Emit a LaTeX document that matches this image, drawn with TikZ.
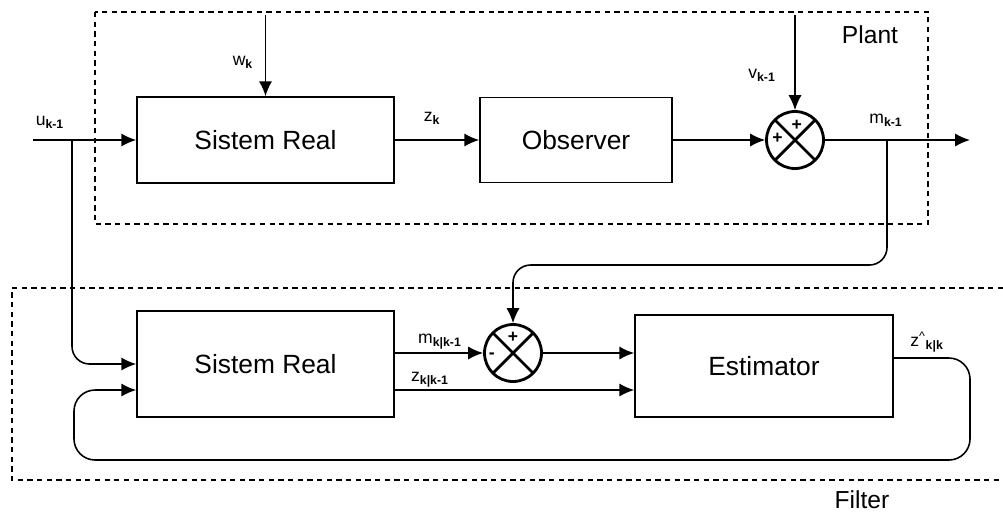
\documentclass[tikz,border=0pt]{standalone}
\usepackage{fontspec}
\setmainfont{Liberation Sans}
\usetikzlibrary{arrows.meta,positioning,calc}
\tikzset{>={Latex[length=8.5pt,width=7.5pt]}}
\newcommand{\sig}[2]{#1\textsubscript{\bfseries #2}}

\begin{document}
\begin{tikzpicture}[x=0.02cm, y=-0.02cm, line width=0.9pt,
  block/.style = {draw, line width=0.9pt, font=\fontsize{15}{18}\selectfont},
  summer/.style = {draw, circle, line width=1.6pt, minimum size=1.14cm, inner sep=0pt,
    path picture={\draw[line width=1.6pt] (path picture bounding box.north west) -- (path picture bounding box.south east)
      (path picture bounding box.north east) -- (path picture bounding box.south west);}},
  sign/.style = {font=\fontsize{10}{12}\selectfont\bfseries, inner sep=0pt},
  frame/.style = {dash pattern=on 3pt off 2.5pt, line width=0.8pt},
  title/.style = {font=\fontsize{14}{16}\selectfont, inner sep=0pt},
  lbl/.style = {font=\fontsize{10}{12}\selectfont, inner sep=0pt}]
\useasboundingbox (0,0) rectangle (1003,515);

% plant
\node[block, minimum width=5.14cm, minimum height=1.72cm] (sys) at (265.5,140) {Sistem Real};
\node[block, minimum width=3.84cm, minimum height=1.7cm] (obs) at (576,140) {Observer};
\node[summer] (sumv) at (795,140) {};
\node[sign, yshift=8.5pt, xshift=1pt] at (sumv) {+};
\node[sign, xshift=-10pt, yshift=1pt] at (sumv) {+};

% filter
\node[block, minimum width=5.14cm, minimum height=2.12cm] (model) at (265.5,364) {Sistem Real};
\node[block, minimum width=5.16cm, minimum height=2.04cm] (est) at (764,366) {Estimator};
\node[summer] (summ) at (513,353) {};
\node[sign, yshift=9pt] at (summ) {+};
\node[sign, xshift=-12pt, yshift=-1.5pt] at (summ) {-};

\coordinate (uin) at (33,140);
\coordinate (usplit) at (72,140);
\coordinate (win) at (265.5,15);
\coordinate (vin) at (795,15);
\coordinate (mout) at (970,140);
\coordinate (msplit) at (887,140);
\coordinate (mturn) at (887,265);
\coordinate (zrow) at (0,390);
\coordinate (fbr) at (970,460);
\coordinate (fbl) at (74,460);

\draw[->] (uin) -- (sys.west);
\draw[->] (win) -- (sys.north);
\draw[->] (sys.east) -- (obs.west);
\draw[->] (obs.east) -- (sumv.west);
\draw[->] (vin) -- (sumv.north);
\draw[->] (sumv.east) -- (mout);
\draw[->, rounded corners=10pt] (usplit) |- (model.west);
\draw[->, rounded corners=10pt] (msplit) -- (mturn) -| (summ.north);
\draw[->] (model.east |- summ.west) -- (summ.west);
\draw[->] (summ.east) -- (est.west |- summ.east);
\draw[->] (model.east |- zrow) -- (est.west |- zrow);
\draw[->, rounded corners=12pt] ([yshift=0.16cm]est.east) -| (fbr) -- (fbl) |- (model.west |- zrow);

% labels
\node[lbl] (ulab) at (50,122) {\sig{u}{k-1}};
\node[lbl] (wlab) at (243,62) {\sig{w}{k}};
\node[lbl] (zlab) at (432,118) {\sig{z}{k}};
\node[lbl] (vlab) at (762,75) {\sig{v}{k-1}};
\node[lbl] (mlab) at (886,120) {\sig{m}{k-1}};
\node[lbl] (mplab) at (440,342) {\sig{m}{k|k-1}};
\node[lbl] (zplab) at (430,380) {\sig{z}{k|k-1}};
\node[lbl] (zelab) at (927,342) {z\textsuperscript{\^{}}\textsubscript{\bfseries k|k}};

\draw[frame] (95,12) rectangle (928,224);
\draw[frame] (1003,288) -| (12,480) -- (1003,480);
\node[title] (plantlab) at (870,35) {Plant};
\node[title] (filterlab) at (862,500) {Filter};
\end{tikzpicture}
\end{document}
